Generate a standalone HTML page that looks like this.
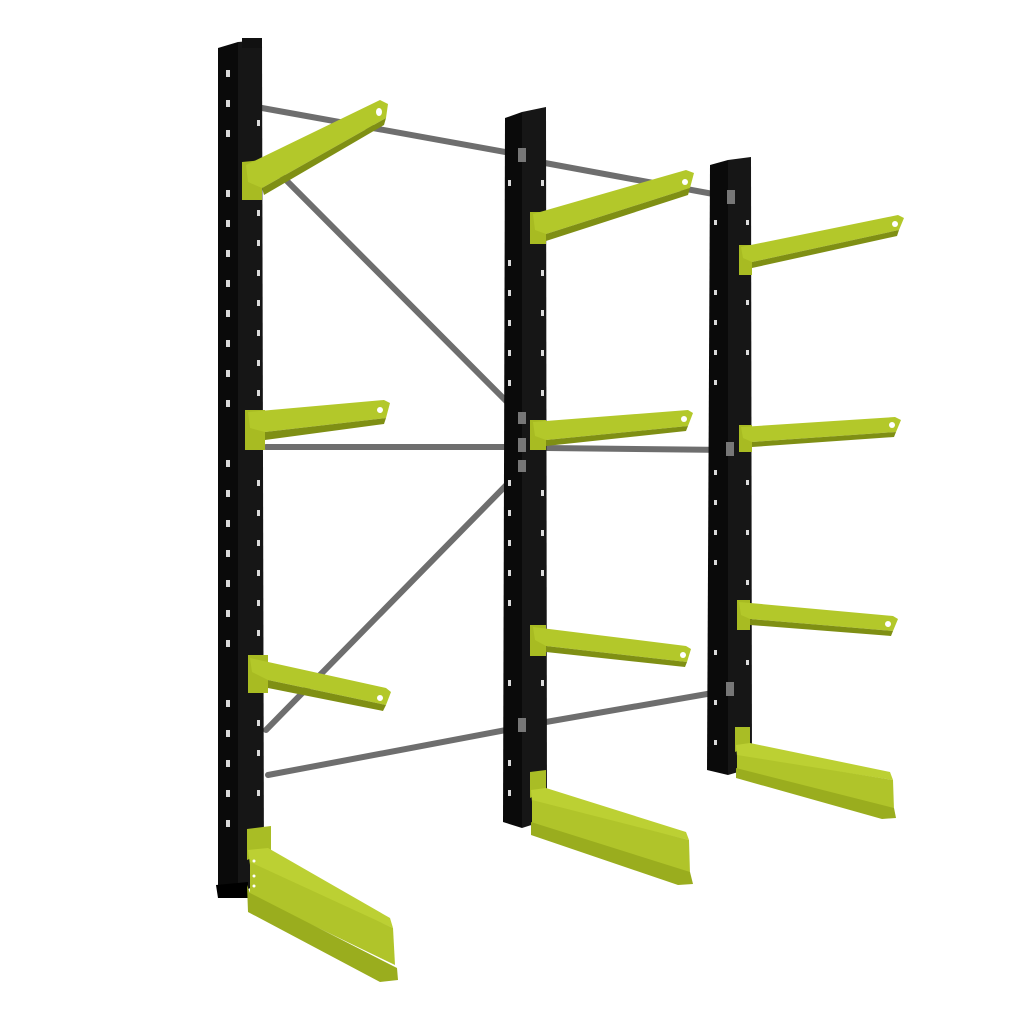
<!DOCTYPE html>
<html><head><meta charset="utf-8"><style>html,body{margin:0;padding:0;background:#fff}svg{display:block}</style></head>
<body>
<svg width="1024" height="1024" viewBox="0 0 1024 1024" xmlns="http://www.w3.org/2000/svg">
<defs>
<linearGradient id="bar" x1="0" y1="0" x2="0" y2="1"><stop offset="0" stop-color="#9a9a9a"/><stop offset="0.5" stop-color="#6a6a6a"/><stop offset="1" stop-color="#3c3c3c"/></linearGradient>
</defs>
<!-- gray bars behind -->
<g stroke="#6e6e6e" stroke-width="6" stroke-linecap="round">
<line x1="262" y1="108" x2="522" y2="155"/>
<line x1="545" y1="163" x2="735" y2="198"/>
<line x1="266" y1="447" x2="522" y2="447"/>
<line x1="546" y1="448" x2="730" y2="450"/>
<line x1="268" y1="775" x2="522" y2="727"/>
<line x1="546" y1="722" x2="730" y2="690"/>
<line x1="278" y1="172" x2="525" y2="420"/>
<line x1="525" y1="466" x2="266" y2="730"/>
</g>
<!-- columns -->
<g>
<polygon points="218,48 238,42 238,895 218,895" fill="#0a0a0a"/>
<polygon points="238,42 262,40 264,880 238,895" fill="#161616"/>
<rect x="242" y="38" width="20" height="10" fill="#111"/>
<polygon points="216,885 248,882 248,898 218,898" fill="#000"/>
<polygon points="505,118 522,112 522,828 503,822" fill="#0a0a0a"/>
<polygon points="522,112 546,107 547,820 522,828" fill="#161616"/>
<polygon points="710,165 728,160 728,775 707,770" fill="#0a0a0a"/>
<polygon points="728,160 751,157 752,768 728,775" fill="#161616"/>
</g>
<!-- holes -->
<g fill="#fff" opacity="0.85">
<rect x="226" y="70" width="4" height="7"/><rect x="226" y="100" width="4" height="7"/><rect x="226" y="130" width="4" height="7"/><rect x="226" y="190" width="4" height="7"/><rect x="226" y="220" width="4" height="7"/><rect x="226" y="250" width="4" height="7"/><rect x="226" y="280" width="4" height="7"/><rect x="226" y="310" width="4" height="7"/><rect x="226" y="340" width="4" height="7"/><rect x="226" y="370" width="4" height="7"/><rect x="226" y="400" width="4" height="7"/><rect x="226" y="460" width="4" height="7"/><rect x="226" y="490" width="4" height="7"/><rect x="226" y="520" width="4" height="7"/><rect x="226" y="550" width="4" height="7"/><rect x="226" y="580" width="4" height="7"/><rect x="226" y="610" width="4" height="7"/><rect x="226" y="640" width="4" height="7"/><rect x="226" y="700" width="4" height="7"/><rect x="226" y="730" width="4" height="7"/><rect x="226" y="760" width="4" height="7"/><rect x="226" y="790" width="4" height="7"/><rect x="226" y="820" width="4" height="7"/>
<rect x="257" y="120" width="3" height="6"/><rect x="257" y="210" width="3" height="6"/><rect x="257" y="240" width="3" height="6"/><rect x="257" y="270" width="3" height="6"/><rect x="257" y="300" width="3" height="6"/><rect x="257" y="330" width="3" height="6"/><rect x="257" y="360" width="3" height="6"/><rect x="257" y="390" width="3" height="6"/><rect x="257" y="480" width="3" height="6"/><rect x="257" y="510" width="3" height="6"/><rect x="257" y="540" width="3" height="6"/><rect x="257" y="570" width="3" height="6"/><rect x="257" y="600" width="3" height="6"/><rect x="257" y="630" width="3" height="6"/><rect x="257" y="720" width="3" height="6"/><rect x="257" y="750" width="3" height="6"/><rect x="257" y="790" width="3" height="6"/>
<rect x="508" y="180" width="3" height="6"/><rect x="508" y="260" width="3" height="6"/><rect x="508" y="290" width="3" height="6"/><rect x="508" y="320" width="3" height="6"/><rect x="508" y="350" width="3" height="6"/><rect x="508" y="380" width="3" height="6"/><rect x="508" y="480" width="3" height="6"/><rect x="508" y="510" width="3" height="6"/><rect x="508" y="540" width="3" height="6"/><rect x="508" y="570" width="3" height="6"/><rect x="508" y="600" width="3" height="6"/><rect x="508" y="680" width="3" height="6"/><rect x="508" y="760" width="3" height="6"/><rect x="508" y="790" width="3" height="6"/>
<rect x="541" y="180" width="3" height="6"/><rect x="541" y="270" width="3" height="6"/><rect x="541" y="310" width="3" height="6"/><rect x="541" y="350" width="3" height="6"/><rect x="541" y="390" width="3" height="6"/><rect x="541" y="490" width="3" height="6"/><rect x="541" y="530" width="3" height="6"/><rect x="541" y="570" width="3" height="6"/><rect x="541" y="680" width="3" height="6"/>
<rect x="714" y="220" width="3" height="5"/><rect x="714" y="290" width="3" height="5"/><rect x="714" y="320" width="3" height="5"/><rect x="714" y="350" width="3" height="5"/><rect x="714" y="380" width="3" height="5"/><rect x="714" y="470" width="3" height="5"/><rect x="714" y="500" width="3" height="5"/><rect x="714" y="530" width="3" height="5"/><rect x="714" y="560" width="3" height="5"/><rect x="714" y="650" width="3" height="5"/><rect x="714" y="700" width="3" height="5"/><rect x="714" y="740" width="3" height="5"/>
<rect x="746" y="220" width="3" height="5"/><rect x="746" y="300" width="3" height="5"/><rect x="746" y="350" width="3" height="5"/><rect x="746" y="480" width="3" height="5"/><rect x="746" y="530" width="3" height="5"/><rect x="746" y="580" width="3" height="5"/><rect x="746" y="660" width="3" height="5"/>
</g>
<!-- bar collars -->
<g fill="#777"><rect x="518" y="148" width="8" height="14"/><rect x="727" y="190" width="8" height="14"/><rect x="518" y="438" width="8" height="14"/><rect x="726" y="442" width="8" height="14"/><rect x="518" y="718" width="8" height="14"/><rect x="726" y="682" width="8" height="14"/><rect x="518" y="412" width="8" height="12"/><rect x="518" y="460" width="8" height="12"/></g>
<!-- arms -->
<g>
<!-- col1 top -->
<polygon points="242,162 262,160 262,200 242,200" fill="#a8bb22"/>
<polygon points="246,165 380,100 388,104 386,118 262,188 248,182" fill="#b3c82a"/>
<polygon points="262,188 386,118 384,125 264,195" fill="#7f8f14"/>
<ellipse cx="379" cy="112" rx="3" ry="4" fill="#fff"/>
<!-- col1 mid -->
<polygon points="245,410 265,410 265,450 245,450" fill="#a8bb22"/>
<polygon points="248,412 384,400 390,403 386,418 265,432 250,428" fill="#b3c82a"/>
<polygon points="265,432 386,418 384,424 265,440" fill="#7f8f14"/>
<ellipse cx="380" cy="410" rx="3" ry="3" fill="#fff"/>
<!-- col1 low -->
<polygon points="248,655 268,655 268,693 248,693" fill="#a8bb22"/>
<polygon points="250,658 386,688 391,692 386,705 268,680 252,672" fill="#b3c82a"/>
<polygon points="268,680 386,705 383,711 268,688" fill="#7f8f14"/>
<ellipse cx="380" cy="698" rx="3" ry="3" fill="#fff"/>
<!-- col2 top -->
<polygon points="530,212 546,212 546,244 530,244" fill="#a8bb22"/>
<polygon points="533,214 686,170 694,173 690,188 546,234 535,230" fill="#b3c82a"/>
<polygon points="546,234 690,188 688,195 546,241" fill="#7f8f14"/>
<ellipse cx="685" cy="182" rx="3" ry="3" fill="#fff"/>
<!-- col2 mid -->
<polygon points="530,420 546,420 546,450 530,450" fill="#a8bb22"/>
<polygon points="533,422 688,410 693,413 688,426 546,440 535,436" fill="#b3c82a"/>
<polygon points="546,440 688,426 686,431 546,446" fill="#7f8f14"/>
<ellipse cx="684" cy="419" rx="3" ry="3" fill="#fff"/>
<!-- col2 low -->
<polygon points="530,625 546,625 546,656 530,656" fill="#a8bb22"/>
<polygon points="533,627 686,646 691,649 687,662 546,646 535,640" fill="#b3c82a"/>
<polygon points="546,646 687,662 685,667 546,652" fill="#7f8f14"/>
<ellipse cx="683" cy="655" rx="3" ry="3" fill="#fff"/>
<!-- col3 top -->
<polygon points="739,245 752,245 752,275 739,275" fill="#a8bb22"/>
<polygon points="741,247 898,215 904,218 899,230 752,262 743,258" fill="#b3c82a"/>
<polygon points="752,262 899,230 897,236 752,268" fill="#7f8f14"/>
<ellipse cx="895" cy="224" rx="3" ry="3" fill="#fff"/>
<!-- col3 mid -->
<polygon points="739,425 752,425 752,452 739,452" fill="#a8bb22"/>
<polygon points="741,427 895,417 901,420 896,432 752,442 743,438" fill="#b3c82a"/>
<polygon points="752,442 896,432 894,437 752,447" fill="#7f8f14"/>
<ellipse cx="892" cy="425" rx="3" ry="3" fill="#fff"/>
<!-- col3 low -->
<polygon points="737,600 750,600 750,630 737,630" fill="#a8bb22"/>
<polygon points="739,602 893,616 898,619 893,631 750,619 741,615" fill="#b3c82a"/>
<polygon points="750,619 893,631 891,636 750,625" fill="#7f8f14"/>
<ellipse cx="888" cy="624" rx="3" ry="3" fill="#fff"/>
</g>
<!-- feet -->
<g>
<polygon points="247,829 271,826 271,850 247,860" fill="#a9bd25"/>
<polygon points="248,850 268,848 390,918 393,928 250,865" fill="#bcd033"/>
<polygon points="250,862 393,928 395,965 250,895" fill="#b0c42a"/>
<polygon points="247,885 250,893 397,968 398,980 380,982 248,912" fill="#9aad1e"/>
<circle cx="254" cy="861" r="1.5" fill="#fff"/><circle cx="254" cy="876" r="1.5" fill="#fff"/><circle cx="254" cy="886" r="1.5" fill="#fff"/>
<polygon points="530,772 546,770 546,790 530,798" fill="#a9bd25"/>
<polygon points="531,790 546,788 686,832 689,840 532,802" fill="#bcd033"/>
<polygon points="532,800 689,840 690,874 532,828" fill="#b0c42a"/>
<polygon points="531,822 690,872 693,884 678,885 531,835" fill="#9aad1e"/>
<polygon points="735,727 750,727 750,745 735,752" fill="#a9bd25"/>
<polygon points="736,745 750,743 890,772 893,780 737,756" fill="#bcd033"/>
<polygon points="737,755 893,780 894,810 737,772" fill="#b0c42a"/>
<polygon points="736,768 894,808 896,818 882,819 736,778" fill="#9aad1e"/>
</g>
</svg>
</body></html>
